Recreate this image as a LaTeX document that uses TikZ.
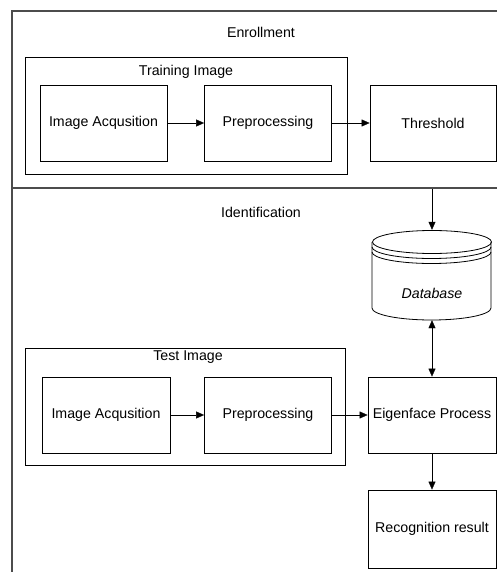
\documentclass[tikz,border=0pt]{standalone}
\usepackage{fontspec}
\setmainfont{Liberation Sans}
\usepackage{tikz}
\usetikzlibrary{arrows.meta}

\begin{document}
\begin{tikzpicture}[x=1pt, y=-1pt, font=\fontsize{14.2}{17}\selectfont,
    stage/.style={draw, line width=0.8pt, minimum width=127pt, minimum height=76pt, inner sep=0pt},
    frame/.style={draw=black!70, line width=1.6pt},
    group/.style={draw, line width=0.8pt},
    >={Triangle[length=8pt, width=7pt]}]
          \useasboundingbox (0,0) rectangle (497,572);

          % outer frame and divider
          \draw[frame] (497,11) -- (12,11) -- (12,572);
          \draw[frame] (12,188) -- (497,188);

          % enrollment part
          \node at (261, 32) {Enrollment};
          \draw[group] (25,57) rectangle (347,174);
          \node at (186, 72) {Training Image};
          \node[stage] (acq1) at (103.5,123) {Image Acqusition};
          \node[stage] (pre1) at (268,123) {Preprocessing};
          \node[stage, minimum width=126pt] (thr) at (433,123) {Threshold};

          \draw[->] (acq1) edge (pre1)
                    (pre1) edge (thr);

          % identification part
          \node at (261, 212) {Identification};
          \draw[group] (25,348) rectangle (345,465);
          \node at (188, 357) {Test Image};
          \node[stage, minimum width=128pt] (acq2) at (106,415) {Image Acqusition};
          \node[stage] (pre2) at (268,415) {Preprocessing};
          \node[stage, minimum width=128pt] (eig) at (432,415) {Eigenface Process};
          \node[stage, minimum width=128pt, minimum height=78pt] (rec) at (432,529) {Recognition result};

          % database
          \node[minimum width=119pt, minimum height=90pt] (db) at (432,275) {};
          \draw[line width=0.8pt, fill=white] (372,242) -- (372,308)
                arc[start angle=180, end angle=360, x radius=59.5pt, y radius=12pt]
                -- (491,242);
          \draw[line width=0.8pt] (432,242) ellipse[x radius=59.5pt, y radius=11.5pt];
          \draw[line width=0.8pt] (372,247) arc[start angle=180, end angle=360, x radius=59.5pt, y radius=11.5pt];
          \draw[line width=0.8pt] (372,252) arc[start angle=180, end angle=360, x radius=59.5pt, y radius=11.5pt];
          \node[font=\fontsize{14.2}{17}\selectfont\itshape] (dbname) at (432,293) {Database};

          \coordinate (cut) at (432,189);
          \draw[->] (cut) -- (db.north);
          \draw[->] (acq2) edge (pre2)
                    (pre2) edge (eig)
                    (eig) edge (rec);
          \draw[<->] (db.south) -- (eig.north);
        \end{tikzpicture}
\end{document}
